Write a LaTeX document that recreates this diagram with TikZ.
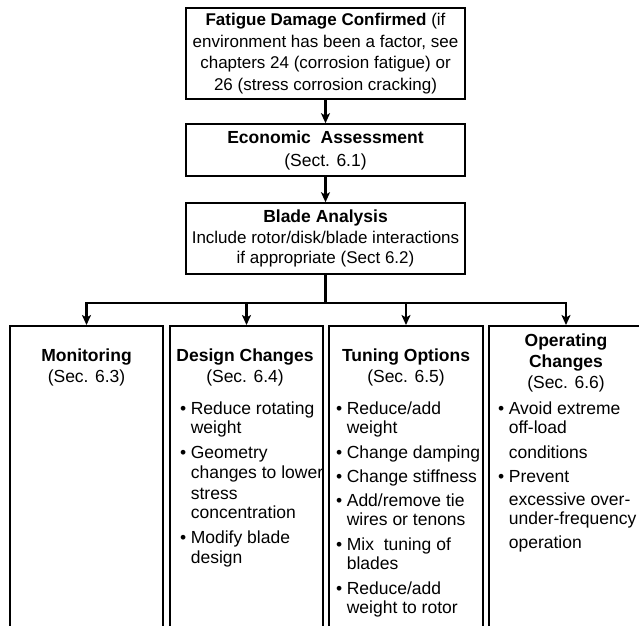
\documentclass[tikz,border=0pt]{standalone}
\usepackage{fontspec}
\setmainfont{Liberation Sans}
\usetikzlibrary{arrows.meta}
\begin{document}
\begin{tikzpicture}[x=1pt,y=-1pt,
  box/.style={draw, line width=1.6pt, inner sep=0pt},
  conn/.style={line width=2.2pt},
  arr/.style={conn, -{Stealth[length=10pt,width=9pt,inset=2.5pt]}},
  txt/.style={font=\fontsize{17.5}{21}\selectfont, align=center, inner sep=0pt},
  lst/.style={font=\fontsize{17.5}{19.5}\selectfont, inner sep=0pt, anchor=base west}]
\useasboundingbox (0,0) rectangle (639,625);
\clip (0,0) rectangle (639,625);
% top boxes
\node[box, txt, minimum width=279pt, minimum height=91pt, font=\fontsize{17}{21.5}\selectfont] (top) at (325.5,53.5)
  {\textbf{Fatigue Damage Confirmed} (if\\environment has been a factor, see\\chapters 24 (corrosion fatigue) or\\26 (stress corrosion cracking)};
\node[box, txt, minimum width=279pt, minimum height=52pt, font=\fontsize{17.5}{23}\selectfont] (eco) at (325.5,150)
  {\textbf{Economic\ \ Assessment}\\(Sect. 6.1)};
\node[box, txt, minimum width=279pt, minimum height=71pt, font=\fontsize{17}{20.5}\selectfont] (blade) at (325.5,238.5)
  {\textbf{\fontsize{17.5}{20.5}\selectfont Blade Analysis}\\Include rotor/disk/blade interactions\\if appropriate (Sect 6.2)};
% bottom boxes (open at the bottom, cropped)
\node[box, minimum width=153pt, minimum height=330pt, anchor=north] (mon) at (86.5,325) {};
\node[box, minimum width=153pt, minimum height=330pt, anchor=north] (des) at (246.5,325) {};
\node[box, minimum width=154pt, minimum height=330pt, anchor=north] (tun) at (406,325) {};
\node[box, minimum width=154pt, minimum height=330pt, anchor=north] (op) at (566,325) {};
% connectors
\coordinate (br) at (325.5,303);
\draw[arr] (top) -- (eco);
\draw[arr] (eco) -- (blade);
\draw[conn] (blade.south) -- (br);
\draw[arr] (br) -| (mon.north);
\draw[arr] (br) -| (op.north);
\draw[arr] (des.north |- br) -- (des.north);
\draw[arr] (tun.north |- br) -- (tun.north);
% headings
\node[txt] (monh) at (86.5,367.5) {\textbf{Monitoring}\\(Sec. 6.3)};
\node[txt] (desh) at (245,367.5) {\textbf{Design Changes}\\(Sec. 6.4)};
\node[txt] (tunh) at (406,367.5) {\textbf{Tuning Options}\\(Sec. 6.5)};
\node[txt] (oph) at (566,362.5) {\textbf{Operating}\\\textbf{Changes}\\(Sec. 6.6)};
% lists
\node[lst] (desl) at (180,414) {\begin{tabular}[t]{@{}l@{\hspace{4.5pt}}l@{}}
\textbullet & Reduce rotating\\ & weight\\[5pt]
\textbullet & Geometry\\[1pt] & changes to lower\\[1pt] & stress\\ & concentration\\[5pt]
\textbullet & Modify blade\\[1pt] & design
\end{tabular}};
\node[lst] (tunl) at (336,414) {\begin{tabular}[t]{@{}l@{\hspace{4.5pt}}l@{}}
\textbullet & Reduce/add\\ & weight\\[5pt]
\textbullet & Change damping\\[5pt]
\textbullet & Change stiffness\\[4pt]
\textbullet & Add/remove tie\\ & wires or tenons\\[5pt]
\textbullet & Mix\ \ tuning of\\ & blades\\[5pt]
\textbullet & Reduce/add\\ & weight to rotor
\end{tabular}};
\node[lst] (opl) at (498,414) {\begin{tabular}[t]{@{}l@{\hspace{4.5pt}}l@{}}
\textbullet & Avoid extreme\\ & off-load\\[5pt] & conditions\\[5pt]
\textbullet & Prevent\\[3pt] & excessive over-\\ & under-frequency\\[4pt] & operation
\end{tabular}};
\end{tikzpicture}
\end{document}
